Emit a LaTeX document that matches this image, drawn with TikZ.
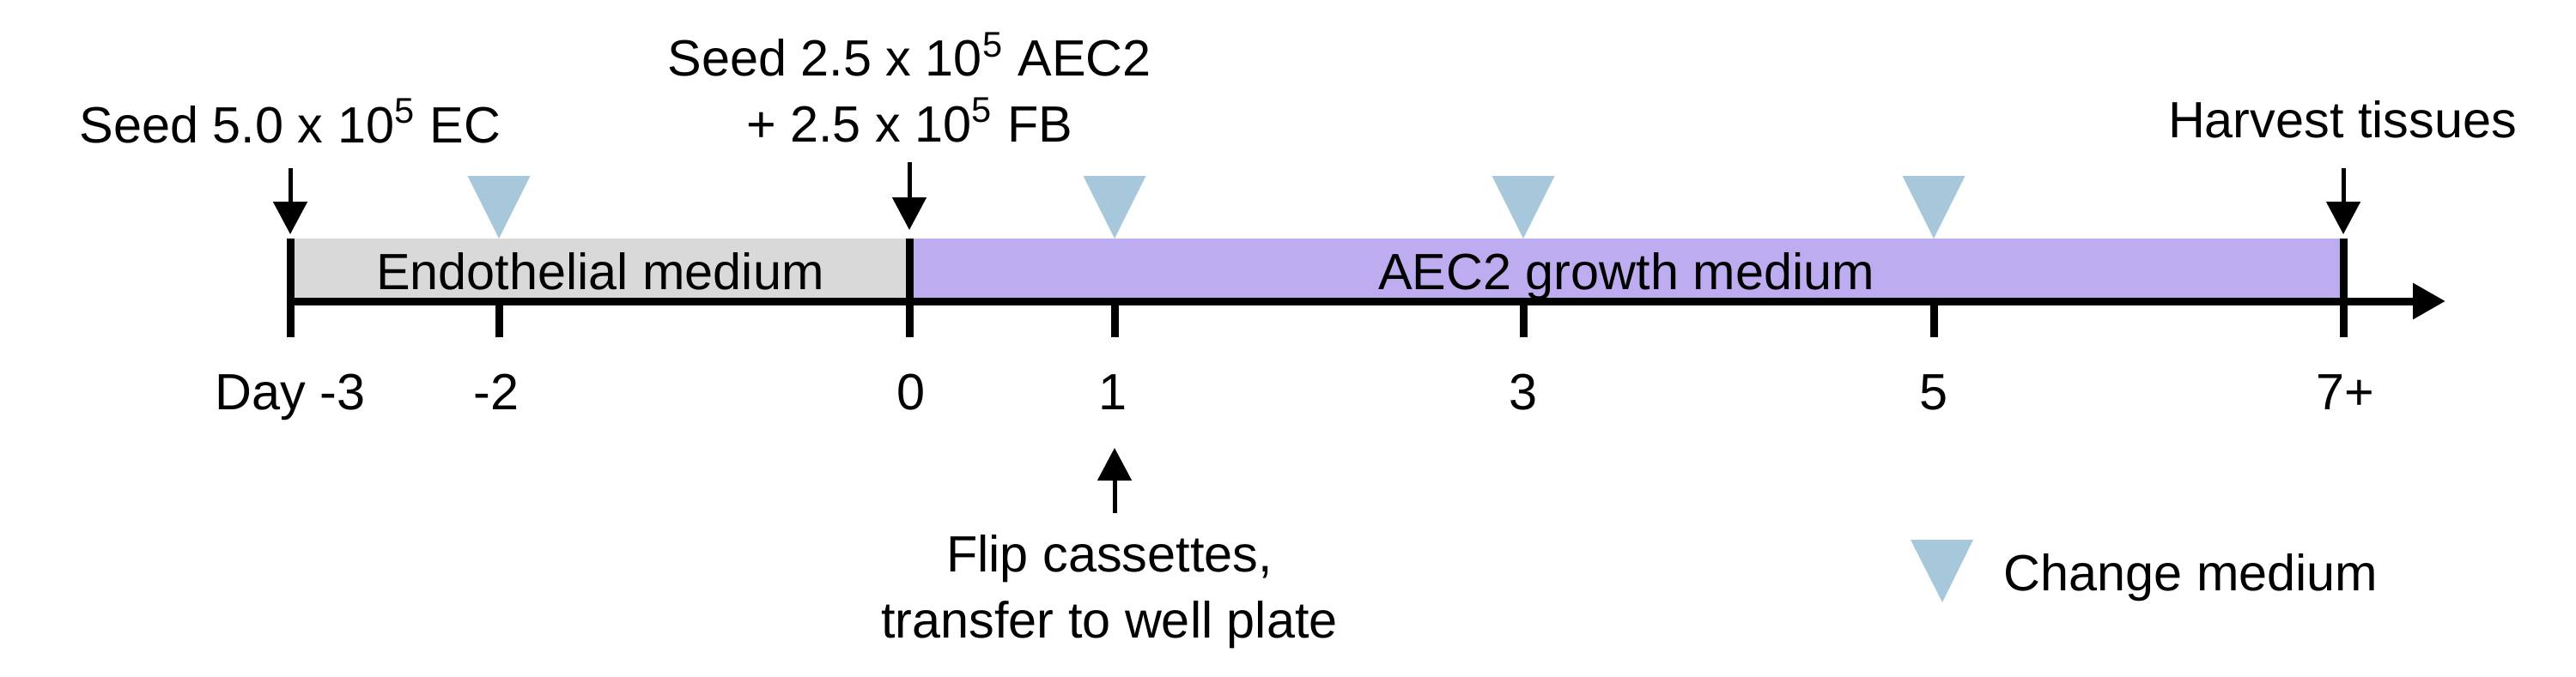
\documentclass[tikz,border=0pt]{standalone}
\usepackage{fontspec}
\setmainfont{Liberation Sans}
\usepackage{xcolor}
\usetikzlibrary{arrows.meta,calc}
\definecolor{endogray}{RGB}{217,217,217}
\definecolor{aecpurple}{RGB}{189,173,240}
\definecolor{medblue}{RGB}{166,200,218}
\tikzstyle{txt}=[inner sep=0pt, anchor=base, align=center,% text set on its (last) baseline
font=\fontsize{16.9}{21.8}\selectfont]
\tikzstyle{timeaxis}=[line width=0.09cm,-{Triangle[length=0.38cm,width=0.40cm]}]
\tikzstyle{daytick}=[line width=0.09cm]
\tikzstyle{event}=[line width=0.05cm,-{Triangle[length=0.38cm,width=0.39cm]}]
\tikzstyle{medmark}=[fill=medblue]

\begin{document}
\begin{tikzpicture}
\useasboundingbox (0,0) rectangle (30,-7.88);

\coordinate (dm3) at (3.38,-3.51);
\coordinate (dm2) at (5.81,-3.51);
\coordinate (d0) at (10.59,-3.51);
\coordinate (d1) at (12.98,-3.51);
\coordinate (d3) at (17.74,-3.51);
\coordinate (d5) at (22.52,-3.51);
\coordinate (d7) at (27.29,-3.51);
\coordinate (axend) at (28.48,-3.51);

\fill[endogray] (dm3) ++(0,0.73) rectangle (d0);
\fill[aecpurple] (d0) ++(0,0.73) rectangle (d7);
\node[txt] (endo) at (6.99,-3.37) {Endothelial medium};
\node[txt] (aec) at (18.94,-3.37) {AEC2 growth medium};

\draw[timeaxis] ($(dm3)+(-0.045,0)$) -- (axend);
\draw[daytick] (dm3) ++(0,0.73) -- ++(0,-1.15);
\draw[daytick] (d0) ++(0,0.73) -- ++(0,-1.15);
\draw[daytick] (d7) ++(0,0.73) -- ++(0,-1.15);
\draw[daytick] (dm2) -- ++(0,-0.42);
\draw[daytick] (d1) -- ++(0,-0.42);
\draw[daytick] (d3) -- ++(0,-0.42);
\draw[daytick] (d5) -- ++(0,-0.42);

\node[txt] (lm3) at (3.38,-4.77) {Day -3};
\node[txt] (lm2) at (5.78,-4.77) {-2};
\node[txt] (l0) at (10.61,-4.77) {0};
\node[txt] (l1) at (12.96,-4.77) {1};
\node[txt] (l3) at (17.74,-4.77) {3};
\node[txt] (l5) at (22.52,-4.77) {5};
\node[txt] (l7) at (27.31,-4.77) {7+};

\fill[medmark] (dm2) ++(-0.365,1.46) -- ++(0.73,0) -- ++(-0.365,-0.73) -- cycle;
\fill[medmark] (d1) ++(-0.365,1.46) -- ++(0.73,0) -- ++(-0.365,-0.73) -- cycle;
\fill[medmark] (d3) ++(-0.365,1.46) -- ++(0.73,0) -- ++(-0.365,-0.73) -- cycle;
\fill[medmark] (d5) ++(-0.365,1.46) -- ++(0.73,0) -- ++(-0.365,-0.73) -- cycle;

\node[txt] (seedec) at (3.38,-1.66) {Seed 5.0 x 10\textsuperscript{5} EC};
\node[txt] (seedaec) at (10.59,-1.65) {Seed 2.5 x 10\textsuperscript{5} AEC2\\+ 2.5 x 10\textsuperscript{5} FB};
\node[txt] (harvest) at (27.28,-1.60) {Harvest tissues};
\draw[event] (dm3) ++(0,1.55) -- ++(0,-0.77);
\draw[event] (d0) ++(0,1.62) -- ++(0,-0.79);
\draw[event] (d7) ++(0,1.55) -- ++(0,-0.77);

\draw[event] (d1) ++(0,-2.47) -- ++(0,0.76);
\node[txt] (flip) at (12.92,-7.43) {Flip cassettes,\\transfer to well plate};

\fill[medmark] (22.25,-6.29) -- (22.98,-6.29) -- (22.62,-7.02) -- cycle;
\node[txt, anchor=base west] (chg) at (23.33,-6.88) {Change medium};
\end{tikzpicture}
\end{document}
